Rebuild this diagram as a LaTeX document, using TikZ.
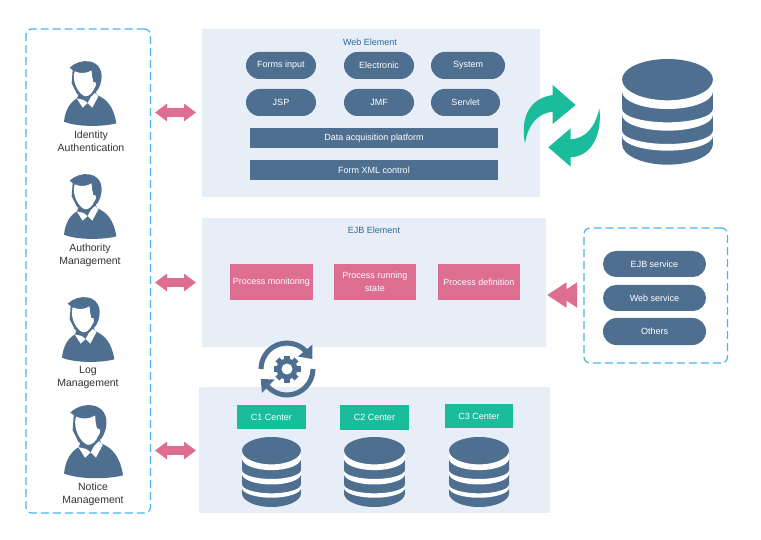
\documentclass[tikz,border=0pt]{standalone}
\usepackage{fontspec}
\setmainfont{Liberation Sans}
\usetikzlibrary{arrows.meta,shapes.misc}
\definecolor{slate}{HTML}{4F6F91}
\definecolor{panelbg}{HTML}{E8EEF8}
\definecolor{rosepink}{HTML}{DD6D91}
\definecolor{teal}{HTML}{1ABC9C}
\definecolor{dashblue}{HTML}{4DB2F0}
\definecolor{headblue}{HTML}{2F6A94}
\newcommand\elfwd[2]{.. controls (0,{#1+.552*#2}) and (61.1,{#1+#2}) .. (136.5,{#1+#2}) .. controls (211.9,{#1+#2}) and (273,{#1+.552*#2}) .. (273,#1)}
\newcommand\elrev[2]{.. controls (273,{#1+.552*#2}) and (211.9,{#1+#2}) .. (136.5,{#1+#2}) .. controls (61.1,{#1+#2}) and (0,{#1+.552*#2}) .. (0,#1)}
\tikzset{
  panel/.style={fill=panelbg,draw=none,inner sep=0pt,outer sep=0pt},
  dashpanel/.style={draw=dashblue,line width=1.2pt,dash pattern=on 8pt off 4pt,rounded corners=6pt,fill=none},
  box/.style={anchor=north west,inner sep=0pt,outer sep=0pt,align=center,font=\fontsize{9}{13}\selectfont},
  pill/.style={box,anchor=center,rounded rectangle,fill=slate,text=white},
  bar/.style={box,fill=slate,text=white},
  pinkbox/.style={box,fill=rosepink,text=white},
  greenbox/.style={box,fill=teal,text=white},
  heading/.style={text=headblue,inner sep=0pt,font=\fontsize{9}{11}\selectfont},
  personlabel/.style={text=black!80,inner sep=0pt,align=center,font=\fontsize{10.5}{13}\selectfont},
  twoway/.style={draw=rosepink,line width=9pt,{Triangle[length=12pt,width=17pt]}-{Triangle[length=12pt,width=17pt]}},
  dbicon/.pic={
    \fill[slate] (0,62) -- (0,255) \elfwd{255}{62} -- (273,62) -- cycle;
    \fill[slate] (136.5,62) ellipse [x radius=136.5,y radius=62];
    \fill[white] (0,62) \elfwd{62}{62} -- (273,97) \elrev{97}{53} -- cycle;
    \fill[white] (0,150) \elfwd{150}{40} -- (273,167) \elrev{167}{48} -- cycle;
    \fill[white] (0,215) \elfwd{215}{40} -- (273,230) \elrev{230}{45} -- cycle;
  },
  personicon/.pic={
    \begin{scope}[shift={(-133,-123)}]
      % pullover with neck
      \fill[slate] (133,305) .. controls (137,270) and (150,248) .. (172,235)
        -- (180,215) -- (225,205) -- (232,225) .. controls (262,238) and (282,260) .. (290,310)
        .. controls (250,321) and (170,321) .. (133,305) -- cycle;
      % collar flaps
      \fill[white] (171,235) -- (189,263) -- (204,249) -- (192,240) -- cycle;
      \fill[white] (204,249) -- (218,263) -- (236,229) -- (226,219) -- (213,232) -- cycle;
      % hair
      \fill[slate] (150,143) .. controls (165,128) and (190,121) .. (208,124)
        .. controls (235,128) and (250,150) .. (245,180)
        .. controls (242,200) and (234,212) .. (226,218)
        -- (200,234) -- (172,222) -- (156,190) -- (159,150) -- cycle;
      % face
      \fill[white] (165,154) .. controls (182,162) and (202,160) .. (216,151)
        .. controls (216,165) and (218,175) .. (221,186)
        .. controls (230,182) and (232,197) .. (224,205)
        .. controls (218,220) and (208,229) .. (197,229)
        .. controls (178,225) and (155,185) .. (165,154) -- cycle;
    \end{scope}
  },
}
\begin{document}
\begin{tikzpicture}[x=1pt,y=-1pt]
\useasboundingbox (0,0) rectangle (761,540);
\fill[white] (0,0) rectangle (761,540);

% panels
\node[panel,anchor=north west,minimum width=338pt,minimum height=168pt] (webpanel) at (202,29) {};
\node[panel,anchor=north west,minimum width=344pt,minimum height=129pt] (ejbpanel) at (202,218) {};
\node[panel,anchor=north west,minimum width=351pt,minimum height=126pt] (centerpanel) at (199,387) {};
\node[dashpanel,anchor=north west,minimum width=124.5pt,minimum height=484pt,inner sep=0pt,outer sep=0pt] (leftpanel) at (26,29) {};
\node[dashpanel,anchor=north west,minimum width=143.5pt,minimum height=135pt,inner sep=0pt,outer sep=0pt] (rightpanel) at (584,228) {};

% people
\pic[scale=0.3333] at (64,61) {personicon};
\pic[scale=0.3333] at (64,174) {personicon};
\pic[scale=0.3333] at (62,297) {personicon};
\pic[scale=0.376] at (64,405) {personicon};
\node[personlabel] (lab1) at (91,141.5) {Identity\\Authentication};
\node[personlabel] (lab2) at (90,255.5) {Authority\\Management};
\node[personlabel] (lab3) at (88,377) {Log\\Management};
\node[personlabel] (lab4) at (93,494) {Notice\\Management};

% web element
\node[heading] (webtitle) at (370,42) {Web Element};
\node[pill,minimum width=70pt,minimum height=27pt] (forms) at (281,65.5) {Forms input};
\node[pill,minimum width=70pt,minimum height=27pt] (electronic) at (379,65.5) {Electronic};
\node[pill,minimum width=74pt,minimum height=27pt] (system) at (468,65.5) {System};
\node[pill,minimum width=70pt,minimum height=27pt] (jsp) at (281,102.5) {JSP};
\node[pill,minimum width=70pt,minimum height=27pt] (jmf) at (379,102.5) {JMF};
\node[pill,minimum width=69pt,minimum height=27pt] (servlet) at (465.5,102.5) {Servlet};
\node[bar,minimum width=248pt,minimum height=20pt] (dap) at (250,128) {Data acquisition platform};
\node[bar,minimum width=248pt,minimum height=20pt] (fxc) at (250,160) {Form XML control};

% EJB element
\node[heading] (ejbtitle) at (374,230) {EJB Element};
\node[pinkbox,minimum width=83pt,minimum height=36pt] (pm) at (230,264) {Process monitoring};
\node[pinkbox,minimum width=82pt,minimum height=36pt] (pr) at (334,264) {Process running\\state};
\node[pinkbox,minimum width=82pt,minimum height=36pt] (pd) at (438,264) {Process definition};

% services
\node[pill,minimum width=103pt,minimum height=26pt] (ejbs) at (654.5,264) {EJB service};
\node[pill,minimum width=103pt,minimum height=26pt] (webs) at (654.5,298) {Web service};
\node[pill,minimum width=103pt,minimum height=27pt] (others) at (654.5,331.5) {Others};

% centers
\node[greenbox,minimum width=69pt,minimum height=24pt] (c1) at (237,405) {C1 Center};
\node[greenbox,minimum width=69pt,minimum height=25pt] (c2) at (340,405) {C2 Center};
\node[greenbox,minimum width=68pt,minimum height=24pt] (c3) at (445,404) {C3 Center};
\pic[xscale=0.2161,yscale=0.2208] at (242,437) {dbicon};
\pic[xscale=0.2234,yscale=0.2208] at (344,437) {dbicon};
\pic[xscale=0.2198,yscale=0.2208] at (449,437) {dbicon};
\pic[scale=0.3333] at (622,59) {dbicon};

% connectors
\coordinate (a1l) at (155,112.5); \coordinate (a1r) at (196,112.5);
\coordinate (a2l) at (155,282.5); \coordinate (a2r) at (196,282.5);
\coordinate (a3l) at (155,450.5); \coordinate (a3r) at (196,450.5);
\path[twoway] (a1l) -- (a1r);
\path[twoway] (a2l) -- (a2r);
\path[twoway] (a3l) -- (a3r);
\coordinate (dbl1) at (577,295); \coordinate (dbl2) at (547.3,295);
\draw[draw=rosepink,fill=rosepink,line width=0.1pt,-{Triangle[length=19pt,width=25pt,sep=-8.3pt]Triangle[length=19pt,width=25pt]}] (dbl1) -- (dbl2);

% green sync arrows
\begin{scope}[shift={(510,50)},scale=0.3333]
  \fill[teal] (45,280) .. controls (30,200) and (60,145) .. (128,135)
    -- (128,105) -- (197,165) -- (128,222) -- (128,185)
    .. controls (85,190) and (55,220) .. (45,280) -- cycle;
  \fill[teal] (268,175) .. controls (278,260) and (240,320) .. (182,322)
    -- (182,350) -- (115,292) -- (182,235) -- (182,268)
    .. controls (225,265) and (255,235) .. (268,175) -- cycle;
\end{scope}

% gear cycle icon
\begin{scope}[shift={(287,369)}]
  \draw[slate,line width=5pt] (180:26pt) arc[start angle=180,end angle=42,radius=26pt];
  \draw[slate,line width=5pt] (0:26pt) arc[start angle=0,end angle=-142,radius=26pt];
  \fill[slate] (25.3pt,24.3pt) -- (25.3pt,10pt) -- (11pt,12.5pt) -- cycle;
  \fill[slate] (-26.3pt,-10pt) -- (-12.5pt,-10.5pt) -- (-25pt,-24pt) -- cycle;
  \fill[slate] (0,0) circle (10.5pt);
  \foreach \a in {0,45,...,315} {
    \fill[slate,rotate=\a] (-2.8pt,8pt) rectangle (2.8pt,13.5pt);
  }
  \fill[white] (0,0) circle (5.5pt);
\end{scope}
\end{tikzpicture}
\end{document}
